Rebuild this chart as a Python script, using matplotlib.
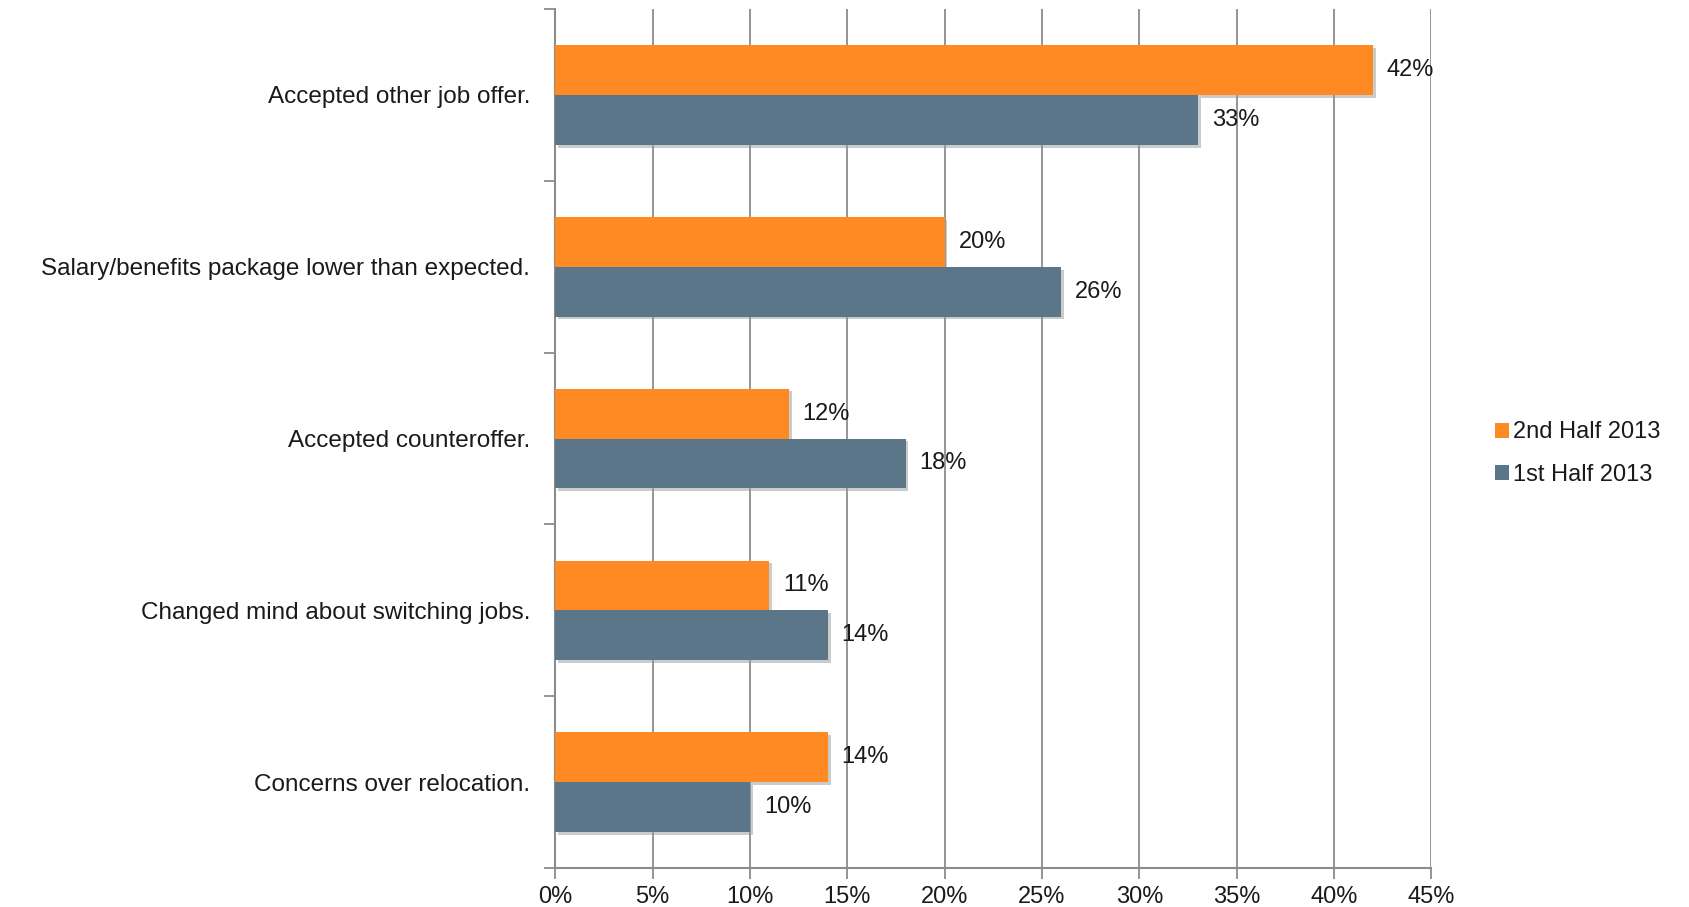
"""Horizontal grouped bar chart: reasons candidates turned down offers, 2013."""

import matplotlib

matplotlib.use("Agg")
import matplotlib.pyplot as plt
import matplotlib.patheffects as pe
from matplotlib.patches import Patch
from matplotlib.ticker import FixedLocator, PercentFormatter
import numpy as np

categories = [
    "Accepted other job offer.",
    "Salary/benefits package lower than expected.",
    "Accepted counteroffer.",
    "Changed mind about switching jobs.",
    "Concerns over relocation.",
]
second_half_2013 = [42, 20, 12, 11, 14]
first_half_2013 = [33, 26, 18, 14, 10]
series_labels = ["2nd Half 2013", "1st Half 2013"]
x_ticks = [0, 5, 10, 15, 20, 25, 30, 35, 40, 45]

ORANGE = "#FF8A24"
SLATE = "#5B7589"
GRID = "#8C8C8C"
TEXT = "#1a1a1a"
FONT_SIZE = 17

plt.rcParams["font.family"] = ["Liberation Sans", "DejaVu Sans"]

fig = plt.figure(figsize=(16.9, 9.07), dpi=100, facecolor="white")
ax = fig.add_axes([0.3285, 0.043, 0.5185, 0.947])

y = np.arange(len(categories))
bar_h = 0.29
shadow = [pe.SimplePatchShadow(offset=(2, -2), shadow_rgbFace="#999999", alpha=0.5), pe.Normal()]

bars_2nd = ax.barh(y - bar_h / 2, second_half_2013, height=bar_h, color=ORANGE, zorder=3)
bars_1st = ax.barh(y + bar_h / 2, first_half_2013, height=bar_h, color=SLATE, zorder=3)
for bar in list(bars_2nd) + list(bars_1st):
    bar.set_path_effects(shadow)

# value labels just right of each bar end
for bars, values in ((bars_2nd, second_half_2013), (bars_1st, first_half_2013)):
    for bar, v in zip(bars, values):
        ax.annotate(f"{v}%", (v, bar.get_y() + bar.get_height() / 2),
                    xytext=(10, 0), textcoords="offset points",
                    va="center", ha="left", fontsize=FONT_SIZE, color=TEXT, zorder=4)

ax.set_xlim(0, 45)
ax.set_ylim(len(categories) - 0.5, -0.5)
ax.set_xticks(x_ticks)
ax.xaxis.set_major_formatter(PercentFormatter(decimals=0))
ax.grid(axis="x", color=GRID, linewidth=1.3, zorder=0)

# category names on centers, tick marks on group boundaries
ax.set_yticks(y)
ax.set_yticklabels(categories)
ax.yaxis.set_minor_locator(FixedLocator(np.arange(-0.5, len(categories), 1.0)))
ax.tick_params(axis="y", which="major", length=0, pad=18, labelsize=17.5, labelcolor=TEXT)
ax.tick_params(axis="y", which="minor", length=8, width=1.3, color=GRID, direction="out")
ax.tick_params(axis="x", length=8, width=1.3, color=GRID, direction="out", pad=5,
               labelsize=FONT_SIZE, labelcolor=TEXT)

for side in ("top", "right"):
    ax.spines[side].set_visible(False)
for side in ("left", "bottom"):
    ax.spines[side].set_color(GRID)
    ax.spines[side].set_linewidth(1.5)

handles = [Patch(facecolor=ORANGE), Patch(facecolor=SLATE)]
fig.legend(handles, series_labels, loc="center left", bbox_to_anchor=(0.872, 0.5),
           frameon=False, fontsize=FONT_SIZE, handlelength=0.6, handleheight=0.6,
           handletextpad=0.15, labelspacing=0.85, labelcolor=TEXT)

fig.savefig("out.png", dpi=100, facecolor="white")
